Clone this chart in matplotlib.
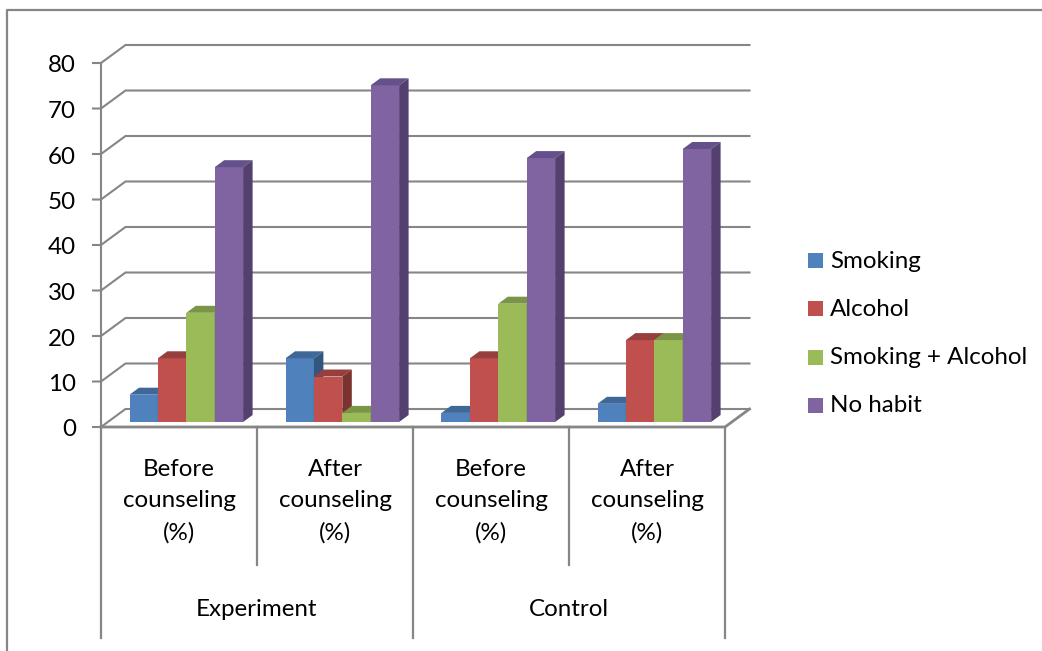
# 3D style clustered columns, drawn by hand as polygons on a flat axes
import matplotlib
matplotlib.use('Agg')
import matplotlib.pyplot as plt
from matplotlib.patches import Polygon, Rectangle

plt.rcParams['font.family'] = ['Lato', 'DejaVu Sans']

groups = ['Experiment', 'Control']
categories = ['Before\ncounseling\n(%)', 'After\ncounseling\n(%)',
              'Before\ncounseling\n(%)', 'After\ncounseling\n(%)']
series = ['Smoking', 'Alcohol', 'Smoking + Alcohol', 'No habit']
smoking = [6, 14, 2, 4]
alcohol = [14, 10, 14, 18]
smoking_alcohol = [24, 2, 26, 18]
no_habit = [56, 74, 58, 60]
y_ticks = [0, 10, 20, 30, 40, 50, 60, 70, 80]

front_colors = ['#4F81BD', '#C0504D', '#9BBB59', '#8064A2']
top_colors = ['#3F6797', '#963F3C', '#7A9545', '#64508A']
side_colors = ['#33567F', '#7C3330', '#637A38', '#54406E']
grid_color = '#868686'
font_size = 17.4

# scale of the value / category axes, in pixels
W, H = 1042, 651
x0, y0 = 101, 427
cat_w = 156
unit_h = 4.55


def px(x):
    return (x - x0) / cat_w


def py(y):
    return (y0 - y) / unit_h


fig = plt.figure(figsize=(W / 100, H / 100), dpi=100)
ax = fig.add_axes([0, 0, 1, 1])
ax.set_xlim(px(0), px(W))
ax.set_ylim(py(H), py(0))
ax.axis('off')

# outer chart border
ax.plot([px(7), px(7), px(W)], [py(H), py(10), py(10)], color=grid_color, lw=1.6, zorder=1)

# walls and floor
wall_dx = 24.5 / cat_w
wall_dy = 18 / unit_h
n_cat = len(categories)
for v in y_ticks:
    ax.plot([px(93), 0, wall_dx, n_cat + wall_dx], [v, v, v + wall_dy, v + wall_dy],
            color=grid_color, lw=1.5, zorder=2, solid_joinstyle='miter')
    ax.text(px(76), v - 1 / unit_h, str(v), ha='right', va='center_baseline',
            fontsize=font_size, color='black')
ax.plot([0, 0], [0, 80], color=grid_color, lw=1.5, zorder=2)
ax.plot([0, n_cat, n_cat + wall_dx], [0, 0, wall_dy], color=grid_color, lw=2, zorder=2)

# category separators below the floor
for i in range(n_cat + 1):
    bottom = py(638) if i % 2 == 0 else py(565)
    ax.plot([i, i], [0, bottom], color=grid_color, lw=1.6, zorder=2)

# columns
values = [smoking, alcohol, smoking_alcohol, no_habit]
start = 28.5 / cat_w
bar_w = 28.4 / cat_w
base = py(422)
dx = 9.5 / cat_w
dy = 7 / unit_h
z = 3
for c in range(n_cat):
    for s in range(len(series)):
        left = c + start + s * bar_w
        right = left + bar_w
        top = base + values[s][c]
        ax.add_patch(Polygon([(left, base), (right, base), (right, top), (left, top)],
                             facecolor=front_colors[s], edgecolor='none', zorder=z))
        ax.add_patch(Polygon([(left, top), (right, top), (right + dx, top + dy), (left + dx, top + dy)],
                             facecolor=top_colors[s], edgecolor='none', zorder=z))
        ax.add_patch(Polygon([(right, base), (right + dx, base + dy), (right + dx, top + dy), (right, top)],
                             facecolor=side_colors[s], edgecolor='none', zorder=z))
        z += 1

# axis labels
for i, label in enumerate(categories):
    ax.text(i + 0.5, py(501), label, ha='center', va='center', fontsize=font_size,
            linespacing=1.6, color='black')
for i, label in enumerate(groups):
    ax.text(2 * i + 1, py(609), label, ha='center', va='center', fontsize=font_size, color='black')

# legend
legend_y = [261, 309.5, 358, 406]
swatch_y = [260.5, 308.5, 357, 405]
for label, color, y, sy in zip(series, front_colors, legend_y, swatch_y):
    ax.add_patch(Rectangle((px(808), py(sy + 7.5)), 15 / cat_w, 15 / unit_h,
                           facecolor=color, edgecolor='none'))
    ax.text(px(830), py(y), label, ha='left', va='center', fontsize=font_size, color='black')

fig.savefig('out.png', dpi=100, facecolor='white')
